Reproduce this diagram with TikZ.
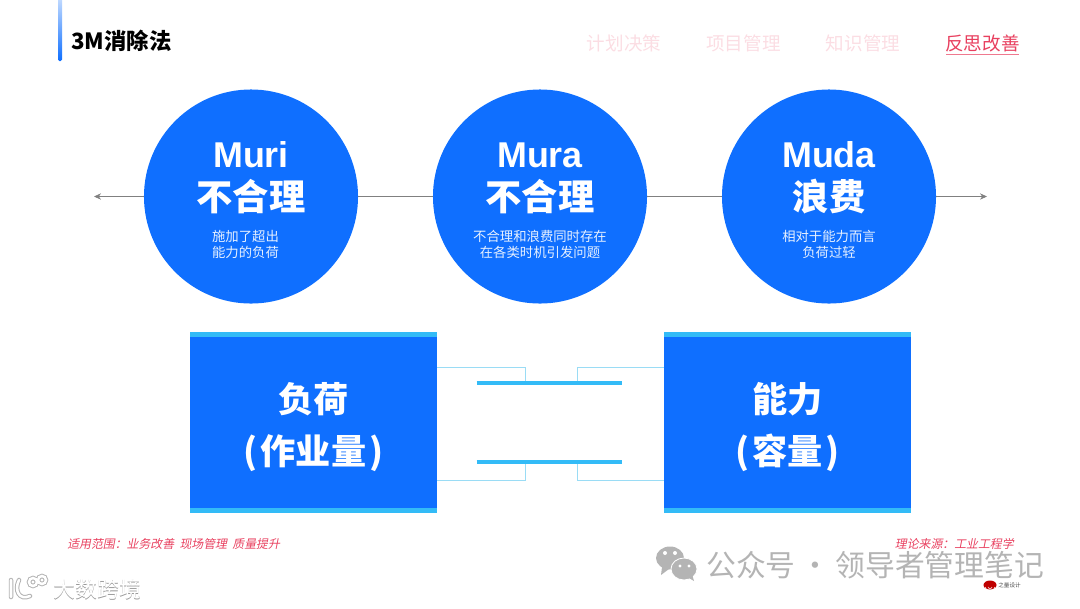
\documentclass[tikz,border=0pt]{standalone}
\usepackage{fontspec}
\setmainfont{Liberation Sans}
\newfontfamily\cjk{Noto Sans CJK SC}
\newfontfamily\cjkslant[FakeSlant=0.2]{Noto Sans CJK SC}
\definecolor{mainBlue}{HTML}{0F6FFF}
\definecolor{stripeBlue}{HTML}{33BBF7}
\definecolor{thinBlue}{HTML}{9ADCF5}
\definecolor{tabRed}{HTML}{E8405F}
\definecolor{tabPale}{HTML}{FBDDE3}
\definecolor{markGray}{HTML}{B4B4B4}
\usetikzlibrary{arrows.meta}

\begin{document}
\begin{tikzpicture}[x=0.025cm, y=-0.025cm, >={Stealth[length=5pt, width=4.5pt]},
    bigCircle/.style={circle, fill=mainBlue, minimum size=5.35cm, inner sep=0pt},
    nameText/.style={text=white, font=\bfseries\fontsize{25.5}{28}\selectfont},
    titleText/.style={text=white, font=\cjk\bfseries\fontsize{25.8}{28}\selectfont},
    noteText/.style={text=white!90!mainBlue, align=center, font=\cjk\fontsize{9.5}{11.6}\selectfont},
    loadBox/.style={fill=mainBlue, minimum width=6.175cm, minimum height=4.525cm, inner sep=0pt},
    boxText/.style={text=white, align=center, font=\cjk\bfseries\fontsize{25}{37}\selectfont},
    tabText/.style={font=\cjk\fontsize{13.2}{15}\selectfont},
    redNote/.style={text=tabRed, font=\cjkslant\fontsize{8.45}{10}\selectfont},
    thinLine/.style={draw=thinBlue, line width=0.6pt},
    midBar/.style={draw=stripeBlue, line width=3pt},
    axisLine/.style={draw=black!50, line width=0.6pt},
    crossMark/.style={font=\cjk\fontsize{15.6}{17}\selectfont}]
    \useasboundingbox (0,0) rectangle (1080,608);

    % Title with the side bar
    \shade[top color=mainBlue!25, bottom color=mainBlue, rounded corners=1pt] (58,-2) rectangle (62,61);
    \node[anchor=west, inner sep=0pt, font=\cjk\bfseries\fontsize{15.9}{18}\selectfont] (title) at (71,41) {3M消除法};

    % Tabs
    \node[tabText, text=tabPale] (tabPlan) at (624,43) {计划决策};
    \node[tabText, text=tabPale] (tabProject) at (743.5,43) {项目管理};
    \node[tabText, text=tabPale] (tabKnow) at (863,43) {知识管理};
    \node[tabText, text=tabRed] (tabReflect) at (982.5,43) {反思改善};
    \draw[tabRed!70, line width=0.6pt] (946,54) -- (1019,54);

    % Axis behind the circles
    \coordinate (axisL) at (94,196.5);
    \coordinate (axisR) at (987,196.5);

    % Circles
    \node[bigCircle] (muri) at (251,196.5) {};
    \node[bigCircle] (mura) at (540,196.5) {};
    \node[bigCircle] (muda) at (829,196.5) {};
    \draw[->, axisLine] (muri) -- (axisL);
    \draw[axisLine] (muri) -- (mura);
    \draw[axisLine] (mura) -- (muda);
    \draw[->, axisLine] (muda) -- (axisR);

    \node[nameText] (muriName) at (251,155) {Muri};
    \node[titleText] (muriTitle) at (251,197) {不合理};
    \node[noteText] (muriNote) at (245.5,244.5) {施加了超出\\能力的负荷};
    \node[nameText] (muraName) at (540,155) {Mura};
    \node[titleText] (muraTitle) at (540,197) {不合理};
    \node[noteText] (muraNote) at (540,244.5) {不合理和浪费同时存在\\在各类时机引发问题};
    \node[nameText] (mudaName) at (829,155) {Muda};
    \node[titleText] (mudaTitle) at (829,197) {浪费};
    \node[noteText] (mudaNote) at (829,244.5) {相对于能力而言\\负荷过轻};

    % Bars and thin links
    \coordinate (barTL) at (476.5,383);
    \coordinate (barTR) at (622,383);
    \coordinate (barBL) at (476.5,462);
    \coordinate (barBR) at (622,462);
    \coordinate (stubTL) at (525,383);
    \coordinate (stubTR) at (577,383);
    \coordinate (stubBL) at (525,462);
    \coordinate (stubBR) at (577,462);

    % Load and capacity boxes
    \node[loadBox] (load) at (313.5,422.5) {};
    \node[loadBox] (capacity) at (787.5,422.5) {};
    \fill[stripeBlue] (load.north west) rectangle ([yshift=-0.125cm]load.north east);
    \fill[stripeBlue] ([yshift=0.125cm]load.south west) rectangle (load.south east);
    \fill[stripeBlue] (capacity.north west) rectangle ([yshift=-0.125cm]capacity.north east);
    \fill[stripeBlue] ([yshift=0.125cm]capacity.south west) rectangle (capacity.south east);
    \node[boxText] (loadText) at (313.5,427) {负荷\\(\kern0.09em作业量\kern0.09em)};
    \node[boxText] (capacityText) at (787.5,427) {能力\\(\kern0.09em容量\kern0.09em)};

    \draw[thinLine] (load.east |- 0,367) -| (stubTL);
    \draw[thinLine] (capacity.west |- 0,367) -| (stubTR);
    \draw[thinLine] (load.east |- 0,480) -| (stubBL);
    \draw[thinLine] (capacity.west |- 0,480) -| (stubBR);
    \draw[midBar] (barTL) -- (barTR);
    \draw[midBar] (barBL) -- (barBR);

    % Watermarks
    \fill[markGray] (670,558) ellipse (14 and 11.5);
    \fill[markGray] (662,567) -- (661,575) -- (669,569) -- cycle;
    \fill[markGray, draw=white, line width=0.6pt] (684,569) ellipse (13 and 11);
    \fill[markGray] (689,578) -- (694,581) -- (692,574) -- cycle;
    \fill[white] (665,553) circle (2) (675,553) circle (2) (680,566) circle (1.6) (689,566) circle (1.6);
    \node[anchor=west, inner sep=0pt, text=markGray, font=\cjk\fontsize{21.2}{24}\selectfont] (markName) at (706,565) {公众号\,·\,领导者管理笔记};

    % Logo at the bottom left, white with a soft gray edge
    \foreach \col/\wid in {black!30/3.2pt, white/1.8pt}{
        \draw[\col, line width=\wid, line cap=round]
            (11,580) -- (11,597)
            (19,580) .. controls (14,590) and (19,601) .. (30,596)
            (33,582) circle (4)
            (42,580) circle (4);
    }
    \node[crossMark, anchor=west, inner sep=0pt, text=black!40] (markShadow) at (53.7,589.7) {大数跨境};
    \node[crossMark, anchor=west, inner sep=0pt, text=white] (markCross) at (53,589) {大数跨境};

    % Footnotes
    \node[redNote, anchor=west, inner sep=0pt] (scope) at (67,544) {适用范围：业务改善\ \ 现场管理\ \ 质量提升};
    \node[redNote, anchor=east, inner sep=0pt] (source) at (1014,544) {理论来源：工业工程学};

    % Small logo
    \fill[red!75!black] (990,585) ellipse (6.5 and 4.5);
    \draw[white, line width=0.4pt] (985,587) arc (180:0:5 and 3.5) (988,587) arc (180:0:2 and 1.5);
    \node[anchor=west, inner sep=0pt, text=black!70, font=\cjk\fontsize{4}{5}\selectfont] (smallLogo) at (998,585) {之量设计};
\end{tikzpicture}
\end{document}
